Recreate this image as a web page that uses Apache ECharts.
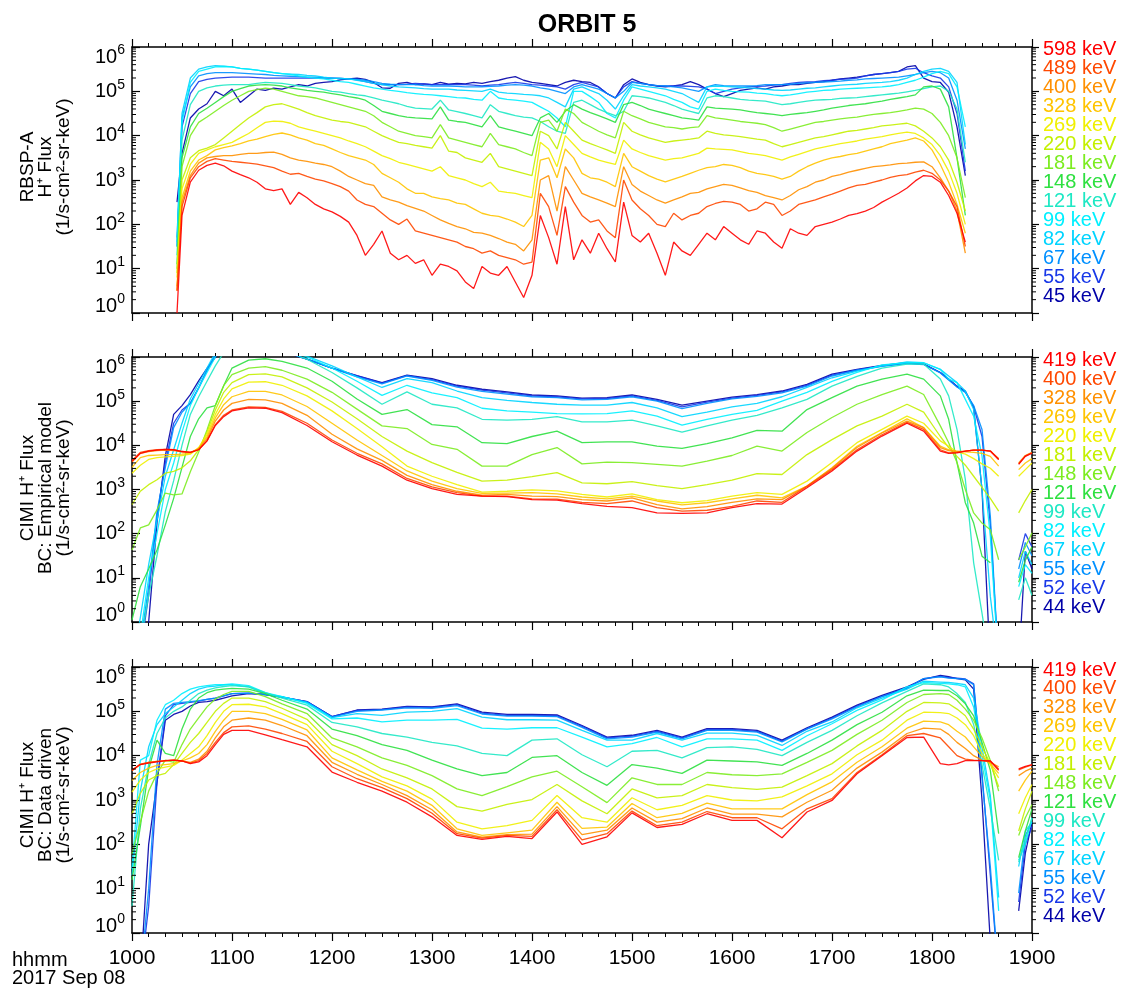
<!DOCTYPE html>
<html>
<head>
<meta charset="utf-8">
<script src="https://cdn.jsdelivr.net/npm/echarts/dist/echarts.min.js"></script>
<style>
html,body{margin:0;padding:0;background:#fff;}
#chart{width:1127px;height:994px;}
</style>
</head>
<body>
<div id="chart"></div>
<script>
// ---------------- DATA (flux values stored as log10 of 1/s-cm2-sr-keV) ----------------
// time = minutes after 10:00 UT, 2017 Sep 08
const RBSP_TIME = [27].concat(Array.from({length: 95}, (_, i) => 30 + 5 * i)); // sampling grid 10:27, 10:30 ... 18:20
const CIMI_TIME = [0,5,10,15,20,25,30,35,40,45,50,55,60,
  70,80,90,105,120,135,150,
  165,180,195,210,225,240,255,270,285,300,
  315,330,345,360,375,390,405,420,435,450,
  465,475,485,490,495,500,505,510,515,520,
  526,532,536,540];

const X_TICK_LABELS = ['1000','1100','1200','1300','1400','1500','1600','1700','1800','1900'];
const RBSP_LABELS = ['598 keV','489 keV','400 keV','328 keV','269 keV','220 keV','181 keV','148 keV','121 keV','99 keV','82 keV','67 keV','55 keV','45 keV'];
const CIMI_LABELS = ['419 keV','400 keV','328 keV','269 keV','220 keV','181 keV','148 keV','121 keV','99 keV','82 keV','67 keV','55 keV','52 keV','44 keV'];

// ---- Panel 1: RBSP-A ----
const RBSP_598 = [0.0,2.2,2.95,3.22,3.33,3.38,3.32,3.2,3.12,3.05,
2.95,2.8,2.76,2.8,2.45,2.72,2.6,2.45,2.35,2.28,
2.18,2.05,1.75,1.3,1.55,1.85,1.35,1.2,1.3,1.12,
1.2,0.85,1.1,1.05,0.95,0.7,0.55,1.05,0.9,0.85,
1.05,0.7,0.35,0.85,2.2,1.7,1.1,2.4,1.2,1.65,
1.35,1.8,1.45,1.15,2.5,1.75,1.6,1.8,1.35,0.85,
1.6,1.4,1.3,1.55,1.8,1.65,1.95,1.8,1.65,1.55,
1.85,1.8,1.6,1.46,1.9,1.8,1.75,1.95,2.0,2.05,
2.12,2.2,2.24,2.3,2.38,2.5,2.6,2.7,2.82,2.98,
3.1,3.08,2.95,2.65,2.25,1.6];
const RBSP_489 = [0.5,2.4,3.05,3.3,3.42,3.48,3.45,3.42,3.4,3.38,
3.36,3.32,3.28,3.2,3.13,3.15,3.08,3.02,2.98,2.92,
2.85,2.75,2.55,2.45,2.4,2.25,2.1,2.0,2.12,1.85,
1.8,1.75,1.7,1.65,1.6,1.5,1.45,1.35,1.4,1.3,
1.25,1.2,1.1,1.15,2.7,2.4,1.75,2.85,2.5,2.2,
2.05,2.1,1.85,1.7,3.0,2.55,2.35,2.2,2.0,1.95,
2.25,2.1,2.2,2.25,2.4,2.47,2.52,2.5,2.45,2.3,
2.35,2.5,2.45,2.2,2.3,2.45,2.5,2.55,2.62,2.68,
2.75,2.82,2.88,2.9,2.95,3.0,3.06,3.1,3.12,3.18,
3.22,3.15,3.0,2.75,2.4,1.5];
const RBSP_400 = [0.5,2.5,3.1,3.38,3.5,3.53,3.55,3.55,3.58,3.6,
3.6,3.62,3.63,3.58,3.5,3.45,3.42,3.38,3.35,3.3,
3.2,3.08,3.0,2.92,2.88,2.62,2.55,2.5,2.42,2.36,
2.3,2.2,2.1,2.02,1.95,1.9,1.82,1.8,1.75,1.68,
1.6,1.55,1.4,1.65,3.0,3.1,2.3,3.3,3.0,2.7,
2.62,2.55,2.48,2.4,3.3,2.9,2.75,2.65,2.55,2.48,
2.55,2.62,2.7,2.72,2.8,2.85,2.9,2.88,2.82,2.76,
2.72,2.65,2.6,2.55,2.65,2.78,2.85,2.95,3.0,3.08,
3.12,3.18,3.22,3.26,3.3,3.32,3.34,3.37,3.38,3.4,
3.41,3.3,3.05,2.75,2.3,1.35];
const RBSP_328 = [0.6,2.6,3.2,3.45,3.55,3.68,3.73,3.77,3.82,3.88,
3.92,3.98,4.03,4.06,4.02,3.95,3.9,3.82,3.78,3.7,
3.62,3.55,3.5,3.45,3.35,3.15,3.05,2.95,2.8,2.7,
2.7,2.62,2.58,2.55,2.48,2.45,2.35,2.25,2.2,2.18,
2.12,2.05,1.95,2.2,3.45,3.5,3.05,3.7,3.5,3.15,
3.05,3.02,2.95,2.85,3.6,3.3,3.2,3.1,3.02,2.96,
3.02,3.08,3.15,3.22,3.28,3.3,3.35,3.33,3.28,3.2,
3.15,3.12,3.08,3.02,3.08,3.2,3.3,3.38,3.45,3.5,
3.53,3.57,3.6,3.65,3.7,3.75,3.82,3.86,3.9,3.95,
3.88,3.68,3.35,2.95,2.45,1.8];
const RBSP_269 = [0.8,2.8,3.35,3.6,3.68,3.75,3.8,3.85,3.95,4.05,
4.18,4.3,4.33,4.32,4.28,4.2,4.15,4.1,4.05,4.0,
3.95,3.88,3.82,3.75,3.65,3.55,3.48,3.4,3.35,3.3,
3.25,3.2,3.3,3.1,3.05,3.0,2.92,2.85,2.95,2.75,
2.72,2.7,2.65,2.6,3.85,3.7,3.3,4.0,3.8,3.6,
3.52,3.45,3.4,3.35,3.9,3.7,3.62,3.55,3.5,3.45,
3.48,3.5,3.55,3.6,3.72,3.7,3.69,3.68,3.64,3.6,
3.58,3.55,3.5,3.45,3.52,3.58,3.64,3.7,3.74,3.78,
3.82,3.85,3.88,3.92,3.95,3.98,4.02,4.05,4.08,4.05,
3.95,3.8,3.55,3.2,2.7,2.0];
const RBSP_220 = [0.9,3.0,3.5,3.66,3.72,3.8,3.95,4.1,4.25,4.4,
4.52,4.65,4.7,4.72,4.66,4.6,4.52,4.45,4.4,4.35,
4.32,4.3,4.25,4.2,4.1,4.0,3.92,3.85,3.82,3.78,
3.75,3.72,4.0,3.65,3.62,3.5,3.45,3.4,3.6,3.3,
3.25,3.2,3.15,3.1,4.1,4.0,3.7,4.3,4.1,3.9,
3.82,3.75,3.68,3.6,4.3,4.1,4.02,3.95,3.9,3.85,
3.88,3.9,3.92,3.95,4.1,4.05,4.02,4.0,3.98,3.95,
3.92,3.9,3.82,3.75,3.8,3.85,3.9,3.95,3.98,4.02,
4.06,4.1,4.12,4.15,4.18,4.22,4.24,4.26,4.28,4.22,
4.1,3.95,3.75,3.45,2.95,2.3];
const RBSP_181 = [1.0,3.3,4.0,4.3,4.42,4.55,4.68,4.8,4.9,5.0,
5.04,5.07,5.05,5.0,4.95,4.9,4.88,4.85,4.8,4.75,
4.7,4.65,4.6,4.55,4.45,4.3,4.2,4.1,4.05,4.0,
3.98,3.95,4.25,3.95,3.9,3.85,3.8,3.75,4.05,3.8,
3.75,3.7,3.62,3.55,4.3,4.35,4.1,4.6,4.5,4.3,
4.2,4.1,4.02,3.95,4.55,4.45,4.38,4.3,4.25,4.2,
4.18,4.15,4.18,4.2,4.45,4.4,4.38,4.35,4.32,4.3,
4.28,4.25,4.18,4.1,4.15,4.2,4.25,4.3,4.32,4.35,
4.38,4.4,4.42,4.45,4.48,4.5,4.52,4.55,4.58,4.62,
4.6,4.5,4.3,4.0,3.5,2.6];
const RBSP_148 = [1.1,3.5,4.2,4.5,4.62,4.75,4.88,5.0,5.06,5.12,
5.14,5.15,5.14,5.12,5.08,5.05,5.02,5.0,4.98,4.95,
4.92,4.88,4.85,4.8,4.68,4.55,4.5,4.45,4.42,4.4,
4.39,4.38,4.65,4.35,4.32,4.3,4.25,4.2,4.45,4.2,
4.15,4.1,4.05,4.0,4.4,4.5,4.3,4.55,4.7,4.6,
4.52,4.45,4.38,4.3,4.7,4.75,4.68,4.6,4.55,4.5,
4.45,4.4,4.38,4.35,4.65,4.62,4.61,4.6,4.58,4.55,
4.52,4.5,4.48,4.45,4.48,4.5,4.52,4.55,4.58,4.62,
4.65,4.68,4.7,4.72,4.75,4.78,4.82,4.85,4.88,4.92,
5.1,5.12,5.05,4.65,3.5,2.2];
const RBSP_121 = [1.3,3.9,4.7,5.0,5.08,5.12,5.14,5.15,5.15,5.15,
5.18,5.2,5.19,5.18,5.15,5.12,5.1,5.08,5.04,5.0,
4.98,4.95,4.92,4.9,4.85,4.8,4.76,4.72,4.66,4.62,
4.61,4.6,4.8,4.58,4.54,4.5,4.45,4.4,4.7,4.55,
4.5,4.45,4.42,4.4,4.32,4.2,4.1,4.05,4.75,4.8,
4.7,4.6,4.52,4.45,4.55,4.9,4.88,4.85,4.8,4.75,
4.68,4.6,4.55,4.5,4.85,4.9,4.88,4.85,4.82,4.8,
4.79,4.78,4.74,4.7,4.72,4.75,4.78,4.8,4.81,4.82,
4.84,4.85,4.86,4.88,4.9,4.92,4.94,4.96,4.99,5.02,
5.06,5.1,5.12,5.0,4.6,3.4];
const RBSP_99 = [1.5,4.3,5.2,5.45,5.5,5.55,5.56,5.55,5.52,5.5,
5.48,5.45,5.42,5.4,5.38,5.35,5.32,5.3,5.28,5.25,
5.22,5.2,5.16,5.12,5.08,5.05,5.02,5.0,4.97,4.95,
4.93,4.92,4.9,4.88,4.86,4.85,4.82,4.8,5.0,4.85,
4.82,4.8,4.78,4.75,4.65,4.55,4.4,4.2,5.0,5.0,
4.88,4.75,4.5,4.4,4.8,5.1,5.05,5.0,4.95,4.9,
4.82,4.75,4.65,4.6,5.0,5.05,5.02,5.0,4.99,4.98,
4.96,4.95,4.92,4.9,4.92,4.95,4.98,5.0,5.02,5.03,
5.05,5.06,5.07,5.08,5.09,5.1,5.12,5.15,5.2,5.25,
5.32,5.4,5.45,5.4,5.1,4.2];
const RBSP_82 = [1.6,4.5,5.3,5.5,5.55,5.58,5.57,5.55,5.52,5.5,
5.48,5.45,5.42,5.4,5.39,5.38,5.36,5.35,5.32,5.3,
5.29,5.28,5.25,5.22,5.18,5.15,5.12,5.1,5.09,5.08,
5.06,5.05,5.05,5.05,5.03,5.02,5.01,5.0,5.05,4.98,
4.96,4.95,4.93,4.92,4.9,4.85,4.75,4.65,5.05,5.1,
5.02,4.95,4.8,4.6,4.9,5.15,5.12,5.1,5.08,5.05,
5.0,4.95,4.85,4.75,5.1,5.12,5.11,5.1,5.09,5.08,
5.06,5.05,5.03,5.02,5.03,5.05,5.07,5.08,5.1,5.12,
5.14,5.15,5.16,5.18,5.19,5.2,5.22,5.25,5.3,5.38,
5.45,5.5,5.52,5.45,5.2,3.8];
const RBSP_67 = [1.7,4.4,5.1,5.35,5.4,5.42,5.42,5.42,5.41,5.4,
5.39,5.38,5.36,5.35,5.34,5.33,5.32,5.32,5.31,5.3,
5.29,5.28,5.27,5.25,5.22,5.18,5.16,5.15,5.15,5.15,
5.13,5.12,5.12,5.12,5.11,5.1,5.1,5.1,5.11,5.12,
5.14,5.15,5.14,5.12,5.08,5.05,5.0,4.95,5.1,5.15,
5.1,5.05,4.95,4.85,5.0,5.2,5.18,5.15,5.13,5.12,
5.1,5.08,5.04,5.0,5.1,5.15,5.13,5.12,5.12,5.12,
5.13,5.15,5.15,5.15,5.16,5.18,5.19,5.2,5.21,5.22,
5.23,5.25,5.26,5.28,5.29,5.3,5.31,5.32,5.35,5.38,
5.42,5.45,5.42,5.3,4.8,3.7];
const RBSP_55 = [1.5,4.2,4.95,5.22,5.27,5.3,5.31,5.32,5.32,5.32,
5.31,5.3,5.3,5.3,5.3,5.3,5.3,5.3,5.3,5.3,
5.29,5.28,5.26,5.22,5.18,5.15,5.15,5.15,5.16,5.18,
5.17,5.15,5.15,5.15,5.15,5.15,5.14,5.12,5.14,5.15,
5.18,5.2,5.18,5.15,5.14,5.12,5.1,5.05,5.15,5.2,
5.15,5.1,4.95,4.85,5.1,5.22,5.18,5.15,5.13,5.12,
5.12,5.12,5.11,5.1,5.05,4.95,5.0,5.05,5.08,5.1,
5.11,5.12,5.14,5.15,5.18,5.2,5.21,5.22,5.24,5.25,
5.27,5.28,5.3,5.35,5.38,5.4,5.42,5.45,5.5,5.52,
5.42,5.35,5.3,5.1,4.5,3.2];
const RBSP_45 = [2.5,3.6,4.4,4.6,4.72,5.0,4.9,5.05,4.75,4.9,
5.05,5.02,5.07,5.05,5.1,5.15,5.12,5.18,5.2,5.22,
5.26,5.28,5.3,5.27,5.2,5.08,5.07,5.18,5.2,5.15,
5.17,5.15,5.2,5.16,5.18,5.17,5.2,5.18,5.22,5.25,
5.3,5.33,5.25,5.2,5.18,5.15,5.12,5.2,5.25,5.22,
5.2,5.1,4.95,4.85,5.15,5.28,5.2,5.15,5.12,5.1,
5.12,5.15,5.22,5.15,5.05,4.95,4.88,4.95,5.02,5.05,
5.08,5.05,5.1,5.12,5.15,5.15,5.18,5.2,5.22,5.25,
5.28,5.3,5.32,5.35,5.38,5.4,5.42,5.45,5.55,5.58,
5.3,5.22,5.2,4.98,4.2,3.1];

// ---- Panel 2: CIMI, BC empirical model ----
const EMP_419 = [3.64,3.82,3.87,3.89,3.91,3.9,3.86,3.84,3.9,4.1,4.45,4.65,4.78,
4.85,4.84,4.74,4.45,4.08,3.78,3.53,
3.21,3.02,2.89,2.85,2.84,2.77,2.76,2.68,2.62,2.59,
2.47,2.46,2.47,2.59,2.68,2.67,3.04,3.42,3.87,4.21,
4.5,4.32,3.87,3.82,3.83,3.87,3.89,3.89,3.87,3.68,
null,3.57,3.75,3.82];
const EMP_400 = [3.66,3.84,3.88,3.9,3.91,3.9,3.86,3.84,3.9,4.1,4.47,4.68,4.8,
4.87,4.86,4.77,4.5,4.12,3.82,3.58,
3.25,3.06,2.93,2.85,2.85,2.79,2.78,2.71,2.68,2.74,
2.59,2.51,2.53,2.62,2.74,2.71,3.07,3.45,3.9,4.24,
4.52,4.36,3.9,3.83,3.84,3.87,3.89,3.89,3.87,3.68,
null,3.58,3.76,3.83];
const EMP_328 = [3.62,3.82,3.86,3.88,3.89,3.88,3.85,3.84,3.92,4.15,4.55,4.8,4.95,
5.04,5.03,4.95,4.68,4.25,3.92,3.66,
3.32,3.11,2.96,2.87,2.89,2.85,2.84,2.77,2.74,2.81,
2.66,2.56,2.61,2.71,2.79,2.77,3.08,3.48,3.95,4.28,
4.55,4.4,3.95,3.88,3.86,3.87,3.89,3.89,3.87,3.7,
null,3.6,3.77,3.84];
const EMP_269 = [3.5,3.72,3.77,3.78,3.79,3.79,3.8,3.82,3.93,4.2,4.62,4.92,5.1,
5.22,5.22,5.14,4.88,4.5,4.12,3.77,
3.42,3.19,3.02,2.91,2.92,2.93,2.9,2.83,2.79,2.85,
2.74,2.65,2.7,2.79,2.87,2.81,3.08,3.49,3.98,4.29,
4.6,4.4,3.98,3.9,3.86,3.85,3.84,3.82,3.75,3.53,
null,3.45,3.6,3.7];
const EMP_220 = [3.37,3.55,3.68,3.72,3.74,3.75,3.77,3.8,3.95,4.25,4.7,5.05,5.28,
5.43,5.44,5.36,5.12,4.78,4.38,3.97,
3.53,3.3,3.11,2.94,2.96,2.99,2.97,2.89,2.83,2.9,
2.77,2.7,2.75,2.85,2.93,2.89,3.19,3.61,4.06,4.36,
4.66,4.5,4.1,3.98,3.85,3.8,3.7,3.58,3.48,3.3,
null,3.3,3.45,3.6];
const EMP_181 = [2.66,2.96,3.11,3.22,3.37,3.41,3.49,3.65,3.9,4.3,4.8,5.2,5.42,
5.6,5.62,5.55,5.3,4.98,4.6,4.2,
3.87,3.61,3.39,3.19,3.21,3.29,3.38,3.15,3.13,3.18,
3.09,3.02,3.11,3.21,3.36,3.34,3.79,4.13,4.44,4.66,
4.93,4.75,4.2,3.95,3.75,3.55,3.3,3.05,2.8,2.51,
null,2.47,2.75,3.0];
const EMP_148 = [1.63,2.13,2.2,2.54,2.92,2.88,2.9,3.4,3.85,4.35,4.9,5.35,5.6,
5.75,5.78,5.7,5.5,5.2,4.82,4.44,
4.38,4.02,3.91,3.53,3.53,3.79,3.95,3.58,3.62,3.61,
3.57,3.53,3.64,3.77,3.98,3.87,4.29,4.63,4.93,5.15,
5.34,5.15,4.44,4.06,3.61,3.0,2.47,2.24,2.09,1.41,
null,1.41,1.7,2.02];
const EMP_121 = [0.05,0.8,1.2,1.63,2.2,2.8,3.5,4.2,4.6,4.85,4.9,5.35,5.75,
5.93,5.96,5.9,5.75,5.45,5.05,4.7,
4.81,4.47,4.42,4.06,4.04,4.2,4.32,4.06,4.08,4.08,
3.98,3.93,4.04,4.17,4.34,4.32,4.81,5.08,5.34,5.5,
5.61,5.5,5.12,4.59,3.61,2.7,2.24,1.49,1.34,null,
null,0.9,1.4,1.7];
const EMP_99 = [-1,-0.5,0.6,1.5,2.5,3.2,4.0,4.7,5.1,5.45,5.8,6.1,6.25,
6.35,6.3,6.15,5.95,5.65,5.3,4.93,
5.21,4.93,4.85,4.59,4.57,4.59,4.65,4.53,4.53,4.57,
4.44,4.3,4.44,4.57,4.68,4.85,5.04,5.34,5.56,5.75,
5.84,5.84,5.5,5.12,4.36,3.23,1.34,0.2,-1,-1,
null,0.5,1.0,0.6];
const EMP_82 = [-1,-0.3,1.0,2.0,3.0,3.6,4.3,4.9,5.3,5.65,6.0,6.25,6.3,
6.4,6.35,6.2,6.0,5.75,5.45,5.13,
5.36,5.19,5.08,4.84,4.78,4.75,4.72,4.71,4.72,4.78,
4.66,4.46,4.59,4.7,4.79,5.0,5.2,5.45,5.65,5.82,
5.87,5.87,5.72,5.5,5.42,5.04,4.66,3.76,1.94,-1,
null,0.8,1.3,1.1];
const EMP_67 = [-1,0.1,1.3,2.3,3.3,3.9,4.5,5.05,5.4,5.75,6.1,6.3,6.32,
6.42,6.38,6.22,6.02,5.8,5.55,5.31,
5.51,5.42,5.23,5.08,5.02,4.97,4.93,4.91,4.91,4.97,
4.85,4.65,4.75,4.87,4.95,5.1,5.31,5.53,5.68,5.8,
5.89,5.87,5.72,5.57,5.42,5.23,4.81,3.0,0.58,-1,
null,1.0,1.6,1.3];
const EMP_55 = [-1,-0.5,0.8,2.5,3.5,4.4,4.75,4.95,5.3,5.7,6.05,6.3,6.35,
6.45,6.4,6.15,5.95,5.75,5.55,5.39,
5.57,5.47,5.32,5.22,5.16,5.1,5.08,5.03,5.04,5.1,
5.0,4.83,4.95,5.05,5.11,5.19,5.34,5.57,5.7,5.79,
5.85,5.83,5.64,5.48,5.32,5.2,4.9,4.36,2.4,-1,
null,1.2,1.8,1.5];
const EMP_52 = [-1,-0.7,0.6,2.4,3.6,4.5,4.8,4.95,5.3,5.7,6.05,6.3,6.35,
6.45,6.4,6.14,5.95,5.75,5.57,5.41,
5.58,5.49,5.34,5.25,5.19,5.12,5.1,5.05,5.06,5.12,
5.02,4.87,4.98,5.07,5.13,5.21,5.36,5.59,5.71,5.8,
5.86,5.84,5.65,5.49,5.33,5.21,4.88,4.2,2.2,-1,
null,1.4,2.0,1.7];
const EMP_44 = [-1,-1,0.0,2.25,3.76,4.7,4.9,5.15,5.46,5.74,5.99,6.2,6.35,
6.45,6.4,6.12,5.95,5.75,5.58,5.42,
5.59,5.51,5.36,5.27,5.21,5.14,5.12,5.07,5.08,5.14,
5.04,4.91,5.0,5.09,5.15,5.23,5.38,5.61,5.72,5.81,
5.87,5.84,5.65,5.5,5.34,5.23,4.85,3.0,-1,-1,
null,-1,1.6,1.2];

// ---- Panel 3: CIMI, BC data driven ----
const DAT_419 = [3.67,3.8,3.83,3.86,3.89,3.9,3.88,3.82,3.86,4.0,4.25,4.48,4.57,
4.57,4.47,4.36,4.2,3.63,3.4,3.2,
2.95,2.62,2.2,2.11,2.18,2.13,2.73,2.0,2.17,2.71,
2.38,2.45,2.69,2.54,2.54,2.15,2.73,2.99,3.59,4.0,
4.41,4.42,3.82,3.79,3.82,3.89,3.89,3.89,3.88,3.67,
null,3.7,3.76,3.8];
const DAT_400 = [3.67,3.81,3.85,3.87,3.89,3.9,3.88,3.83,3.89,4.05,4.3,4.52,4.65,
4.67,4.6,4.5,4.32,3.75,3.48,3.28,
3.03,2.7,2.24,2.14,2.2,2.18,2.78,2.1,2.24,2.75,
2.42,2.5,2.74,2.6,2.6,2.35,2.8,3.03,3.62,4.02,
4.45,4.5,4.4,4.2,4.0,3.92,3.9,3.89,3.88,3.7,
null,3.68,3.74,3.79];
const DAT_328 = [3.66,3.8,3.85,3.87,3.88,3.9,3.88,3.85,3.92,4.1,4.4,4.65,4.8,
4.85,4.8,4.68,4.45,3.85,3.58,3.35,
3.1,2.78,2.28,2.16,2.22,2.23,2.85,2.22,2.32,2.82,
2.5,2.58,2.82,2.68,2.68,2.62,2.95,3.22,3.72,4.08,
4.5,4.62,4.6,4.48,4.3,4.16,4.0,3.9,3.85,3.75,
null,3.55,3.65,3.72];
const DAT_269 = [3.44,3.62,3.72,3.78,3.8,3.82,3.88,3.95,4.05,4.25,4.55,4.8,5.0,
5.0,4.95,4.82,4.58,3.95,3.68,3.42,
3.2,2.88,2.35,2.2,2.26,2.32,2.95,2.36,2.39,2.92,
2.6,2.7,2.93,2.8,2.8,2.8,3.12,3.41,3.85,4.2,
4.62,4.78,4.76,4.7,4.55,4.42,4.2,3.98,3.82,3.6,
null,3.2,3.45,3.65];
const DAT_220 = [3.18,3.45,3.62,3.7,3.74,3.78,3.9,4.05,4.2,4.45,4.75,5.0,5.15,
5.16,5.1,4.95,4.7,4.1,3.82,3.52,
3.32,3.02,2.5,2.35,2.42,2.54,3.1,2.6,2.5,3.05,
2.78,2.88,3.1,3.0,2.98,3.07,3.32,3.59,4.02,4.35,
4.8,4.98,4.97,4.95,4.85,4.7,4.45,4.05,3.8,3.5,
null,2.69,3.05,3.35];
const DAT_181 = [2.69,3.15,3.45,3.55,3.6,3.8,4.05,4.3,4.5,4.75,5.0,5.18,5.3,
5.3,5.22,5.07,4.82,4.25,4.0,3.7,
3.5,3.25,2.85,2.75,2.9,3.01,3.35,2.98,2.69,3.25,
3.05,3.1,3.35,3.28,3.24,3.29,3.55,3.82,4.22,4.57,
5.0,5.2,5.19,5.17,5.05,4.9,4.6,4.2,3.82,3.3,
null,2.3,2.8,3.2];
const DAT_148 = [1.79,2.5,3.2,3.6,3.9,3.85,4.25,4.6,4.85,5.1,5.28,5.38,5.45,
5.45,5.33,5.17,4.95,4.4,4.2,3.95,
3.78,3.55,3.25,3.1,3.3,3.52,3.65,3.3,2.94,3.5,
3.35,3.35,3.62,3.57,3.55,3.59,3.85,4.12,4.48,4.8,
5.2,5.38,5.4,5.38,5.25,5.05,4.8,4.4,3.89,3.2,
null,2.2,2.6,2.9];
const DAT_121 = [1.2,2.4,3.7,4.35,4.05,4.0,4.6,5.05,5.3,5.42,5.48,5.5,5.52,
5.5,5.4,5.25,5.05,4.6,4.45,4.25,
4.12,3.9,3.7,3.55,3.62,3.96,4.0,3.62,3.33,3.8,
3.72,3.6,3.9,3.88,3.86,3.78,4.05,4.35,4.7,4.98,
5.35,5.48,5.47,5.47,5.35,5.17,4.9,4.3,3.67,2.24,
null,1.7,2.3,2.8];
const DAT_99 = [0.6,2.8,3.8,4.5,4.85,5.0,5.1,5.25,5.4,5.48,5.53,5.56,5.58,
5.55,5.42,5.3,5.14,4.75,4.65,4.5,
4.42,4.3,4.22,4.05,4.0,4.35,4.38,4.02,3.75,4.1,
4.12,3.95,4.18,4.2,4.14,4.0,4.3,4.57,4.9,5.19,
5.45,5.62,5.6,5.55,5.4,5.2,4.7,3.8,2.8,1.64,
null,1.6,2.1,2.6];
const DAT_82 = [1.45,3.9,4.0,4.8,5.15,5.25,5.4,5.5,5.55,5.58,5.6,5.6,5.62,
5.58,5.42,5.33,5.18,4.83,4.85,4.76,
4.8,4.8,4.82,4.62,4.6,4.63,4.63,4.42,4.2,4.27,
4.41,4.2,4.38,4.38,4.35,4.12,4.45,4.72,5.02,5.26,
5.55,5.65,5.63,5.62,5.6,5.55,5.1,4.0,3.0,0.5,
null,1.64,2.0,2.6];
const DAT_67 = [1.3,3.2,4.2,4.7,4.95,5.1,5.25,5.4,5.5,5.55,5.57,5.6,5.6,
5.55,5.4,5.33,5.2,4.86,4.95,4.91,
4.98,5.0,5.06,4.87,4.81,4.81,4.8,4.57,4.35,4.35,
4.5,4.35,4.51,4.51,4.46,4.23,4.55,4.76,5.08,5.3,
5.5,5.68,5.66,5.65,5.63,5.6,5.3,4.2,3.1,0.8,
null,1.5,2.3,2.5];
const DAT_55 = [-1,-1,1.0,3.8,5.05,5.18,5.2,5.22,5.24,5.27,5.3,5.35,5.4,
5.41,5.38,5.32,5.21,4.87,5.0,5.03,
5.08,5.07,5.13,4.94,4.89,4.89,4.88,4.64,4.38,4.42,
4.53,4.38,4.57,4.57,4.53,4.31,4.6,4.83,5.1,5.33,
5.52,5.74,5.78,5.75,5.74,5.72,5.6,3.5,1.5,-1,
null,0.9,2.2,2.5];
const DAT_52 = [-1,-1,0.6,3.4,4.9,5.15,5.18,5.2,5.23,5.27,5.3,5.35,5.4,
5.41,5.38,5.32,5.22,4.88,5.02,5.04,
5.1,5.09,5.15,4.96,4.91,4.91,4.9,4.66,4.4,4.44,
4.55,4.4,4.59,4.59,4.55,4.33,4.61,4.85,5.12,5.34,
5.53,5.74,5.79,5.76,5.75,5.73,5.62,3.6,1.3,-1,
null,0.7,2.0,2.4];
const DAT_44 = [-1,-1,2.0,3.4,4.8,4.93,5.0,5.12,5.2,5.22,5.25,5.3,5.35,
5.4,5.38,5.32,5.22,4.88,5.03,5.05,
5.11,5.1,5.17,4.98,4.93,4.93,4.92,4.68,4.42,4.46,
4.57,4.42,4.61,4.61,4.57,4.35,4.63,4.87,5.14,5.36,
5.55,5.72,5.81,5.78,5.74,5.71,5.5,3.0,-0.2,-1,
null,0.5,1.8,2.5];

const RBSP_SERIES = [RBSP_598,RBSP_489,RBSP_400,RBSP_328,RBSP_269,RBSP_220,RBSP_181,RBSP_148,RBSP_121,RBSP_99,RBSP_82,RBSP_67,RBSP_55,RBSP_45];
const EMP_SERIES = [EMP_419,EMP_400,EMP_328,EMP_269,EMP_220,EMP_181,EMP_148,EMP_121,EMP_99,EMP_82,EMP_67,EMP_55,EMP_52,EMP_44];
const DAT_SERIES = [DAT_419,DAT_400,DAT_328,DAT_269,DAT_220,DAT_181,DAT_148,DAT_121,DAT_99,DAT_82,DAT_67,DAT_55,DAT_52,DAT_44];

// ---------------- STYLE ----------------
const FONT = '"Liberation Sans", Arial, Helvetica, sans-serif';
const COLORS = ['#ff0000','#ff4800','#ff9000','#ffc400','#f0f000','#c4f000','#7cec20','#2ee040','#1ee8c4','#00f0ff','#00d4ff','#0090ff','#1838e8','#0000a8'];

const PANELS = [
  {top: 47, height: 266, time: RBSP_TIME, series: RBSP_SERIES, labels: RBSP_LABELS,
   name: 'RBSP-A\nH\u207A Flux\n(1/s-cm\u00B2-sr-keV)', nameY: 167, legendY: 49, legendStep: 19},
  {top: 357, height: 265, time: CIMI_TIME, series: EMP_SERIES, labels: CIMI_LABELS,
   name: 'CIMI H\u207A Flux\nBC: Empirical model\n(1/s-cm\u00B2-sr-keV)', nameY: 488, legendY: 360, legendStep: 19},
  {top: 667, height: 266, time: CIMI_TIME, series: DAT_SERIES, labels: CIMI_LABELS,
   name: 'CIMI H\u207A Flux\nBC: Data driven\n(1/s-cm\u00B2-sr-keV)', nameY: 795, legendY: 670, legendStep: 18.95}
];

// check array lengths
PANELS.forEach((p, pi) => p.series.forEach((s, si) => {
  if (s.length !== p.time.length) console.error('length mismatch panel', pi, 'series', si, s.length, p.time.length);
}));

// minor tick values of the log axis (2..9 x 10^k)
const MINOR_VALUES = [];
for (let k = 0; k < 6; k++) for (let m = 2; m <= 9; m++) MINOR_VALUES.push(m * Math.pow(10, k));

const grids = [], xAxes = [], yAxes = [], series = [], graphics = [];

const axisLine = {show: true, onZero: false, lineStyle: {color: '#000', width: 1.5}};
const richY = {
  b: {fontSize: 20, fontFamily: FONT, color: '#000'},
  e: {fontSize: 14, fontFamily: FONT, color: '#000', padding: [0, 0, 13, 0]},
  bt: {fontSize: 20, fontFamily: FONT, color: '#000', padding: [20, 0, 0, 0]},
  et: {fontSize: 14, fontFamily: FONT, color: '#000', padding: [20, 0, 13, 0]},
  bb: {fontSize: 20, fontFamily: FONT, color: '#000', padding: [0, 0, 14, 0]},
  eb: {fontSize: 14, fontFamily: FONT, color: '#000', padding: [0, 0, 27, 0]}
};

PANELS.forEach((p, g) => {
  grids.push({left: 132, top: p.top, width: 900, height: p.height, outerBoundsMode: 'none', containLabel: false});
  const xBase = {
    type: 'value', gridIndex: g, min: 0, max: 540, interval: 60,
    axisLine: axisLine, splitLine: {show: false},
    axisTick: {show: true, inside: false, length: 8, lineStyle: {color: '#000', width: 1.2}},
    minorTick: {show: true, splitNumber: 6, length: 4, lineStyle: {color: '#000', width: 1}},
    minorSplitLine: {show: false}
  };
  xAxes.push(Object.assign({}, xBase, {
    position: 'bottom',
    axisLabel: {show: g === 2, color: '#000', fontSize: 21, fontFamily: FONT, margin: 15,
      formatter: v => X_TICK_LABELS[Math.round(v / 60)]}
  }));
  xAxes.push(Object.assign({}, xBase, {position: 'top', axisLabel: {show: false}}));

  const yBase = {type: 'log', logBase: 10, gridIndex: g, min: 1, max: 1e6, axisLine: axisLine, splitLine: {show: false}};
  yAxes.push(Object.assign({}, yBase, {
    position: 'left',
    axisTick: {show: true, inside: true, length: 8, lineStyle: {color: '#000', width: 1.2}},
    axisLabel: {show: true, margin: 7, showMinLabel: true, showMaxLabel: true,
      formatter: v => {
        const e = Math.round(Math.log10(v));
        if (e === 6) return '{bt|10}{et|' + e + '}';
        if (e === 0) return '{bb|10}{eb|' + e + '}';
        return '{b|10}{e|' + e + '}';
      },
      rich: richY}
  }));
  yAxes.push(Object.assign({}, yBase, {
    position: 'right',
    axisTick: {show: true, inside: false, length: 7, lineStyle: {color: '#000', width: 1.2}},
    axisLabel: {show: false}
  }));

  // flux lines
  p.series.forEach((logs, i) => {
    series.push({
      name: p.labels[i], type: 'line', xAxisIndex: 2 * g, yAxisIndex: 2 * g,
      data: p.time.map((t, j) => [t, logs[j] == null ? null : Math.pow(10, logs[j])]),
      symbol: 'none', showSymbol: false, connectNulls: false, clip: true, silent: true,
      lineStyle: {color: COLORS[i], width: 1.3, opacity: 0.9}, itemStyle: {color: COLORS[i]},
      z: 2 + (13 - i) * 0.01
    });
  });

  // minor log ticks on left (inside) and right (outside) axes
  series.push({
    type: 'custom', xAxisIndex: 2 * g, yAxisIndex: 2 * g, silent: true, clip: false, z: 5,
    data: MINOR_VALUES.map(v => [0, v]),
    encode: {x: 0, y: 1},
    renderItem: (params, api) => {
      const v = api.value(1);
      const pl = api.coord([0, v]);
      const pr = api.coord([540, v]);
      return {type: 'group', children: [
        {type: 'line', shape: {x1: pl[0], y1: pl[1], x2: pl[0] + 4, y2: pl[1]}, style: {stroke: '#000', lineWidth: 1}},
        {type: 'line', shape: {x1: pr[0], y1: pr[1], x2: pr[0] + 4, y2: pr[1]}, style: {stroke: '#000', lineWidth: 1}}
      ]};
    }
  });

  // rotated y-axis title
  graphics.push({type: 'text', x: 46, y: p.nameY, rotation: Math.PI / 2, silent: true,
    style: {text: p.name, font: '19px ' + FONT, fill: '#000', align: 'center', verticalAlign: 'middle', lineHeight: 18}});

  // channel labels (legend) at right
  p.labels.forEach((lab, i) => {
    graphics.push({type: 'text', x: 1043, y: p.legendY + i * p.legendStep, silent: true,
      style: {text: lab, font: '20px ' + FONT, fill: COLORS[i], align: 'left', verticalAlign: 'middle'}});
  });
});

graphics.push({type: 'text', x: 12, y: 960, silent: true,
  style: {text: 'hhmm', font: '20px ' + FONT, fill: '#000', align: 'left', verticalAlign: 'middle'}});
graphics.push({type: 'text', x: 12, y: 978, silent: true,
  style: {text: '2017 Sep 08', font: '20px ' + FONT, fill: '#000', align: 'left', verticalAlign: 'middle'}});

const chart = echarts.init(document.getElementById('chart'), null, {renderer: 'canvas'});
chart.setOption({
  animation: false,
  backgroundColor: '#fff',
  title: {text: 'ORBIT 5', left: 582, top: 8, textAlign: 'center',
    textStyle: {fontSize: 25, fontWeight: 'bold', color: '#000', fontFamily: FONT}},
  grid: grids,
  xAxis: xAxes,
  yAxis: yAxes,
  series: series,
  graphic: graphics
});
</script>
</body>
</html>
